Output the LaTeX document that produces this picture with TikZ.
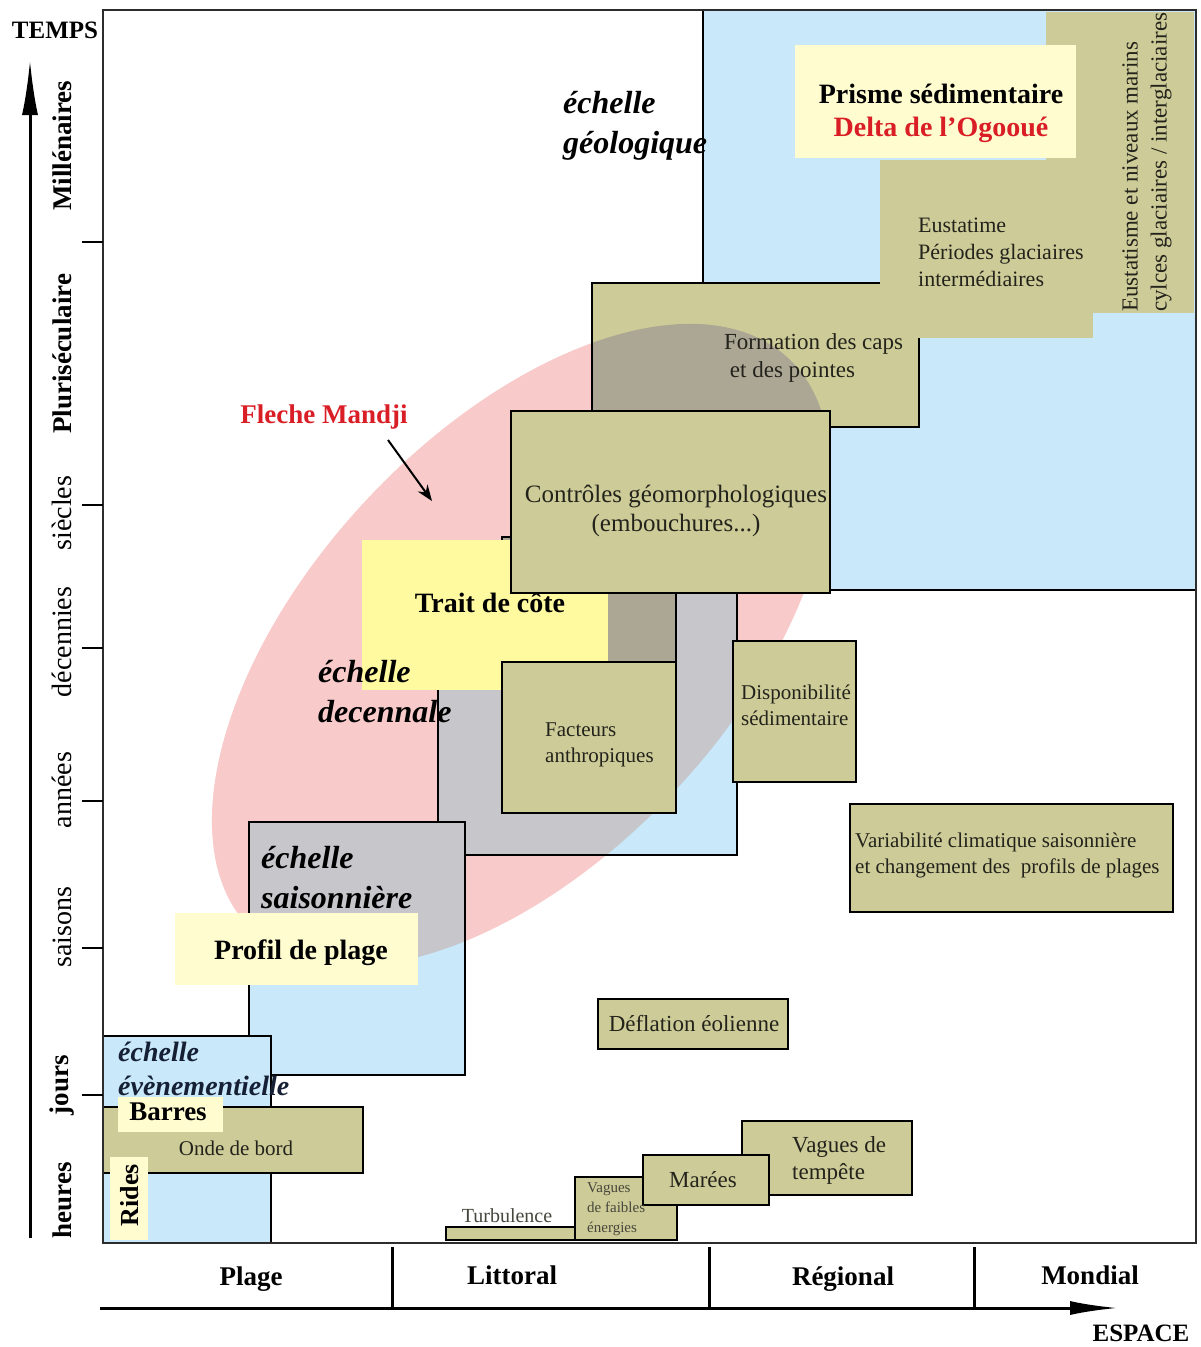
\documentclass[tikz,border=0pt]{standalone}
\usepackage{fontspec}
\setmainfont{Liberation Serif}
\usetikzlibrary{arrows.meta}

\definecolor{geoblue}{RGB}{201,232,250}
\definecolor{khaki}{RGB}{205,204,152}
\definecolor{paleyel}{RGB}{255,252,208}
\definecolor{coteyel}{RGB}{255,250,160}
\definecolor{veilpink}{RGB}{248,202,202}
\definecolor{veilgrey}{RGB}{198,198,203}
\definecolor{veiltaupe}{RGB}{172,166,148}
\definecolor{mandjired}{RGB}{218,30,38}
\definecolor{inkdark}{RGB}{35,35,28}
\definecolor{framegrey}{RGB}{45,45,45}

% ellipse of the decadal scale
\newcommand{\veilpath}{[rotate around={47:(521,645)}] (521,645) ellipse [x radius=392pt, y radius=212pt]}
% box lying under the ellipse: base colour, veiled colour, corners
\newcommand{\veiledbox}[3]{%
  \fill[#1] #3;
  \begin{scope}
    \clip\veilpath;
    \fill[#2] #3;
  \end{scope}
  \draw[edge] #3;}

\tikzset{
  edge/.style={draw=black, line width=2pt},
  zone/.style={fill=geoblue, edge},
  factor/.style={fill=khaki, edge},
  plain/.style={inner sep=0pt, text=inkdark, align=left},
  small/.style={plain, font=\fontsize{21}{26}\selectfont},
  medium/.style={plain, font=\fontsize{23}{28}\selectfont},
  title/.style={inner sep=0pt, align=center, font=\bfseries\fontsize{28}{33}\selectfont},
  scalename/.style={inner sep=0pt, align=left, font=\bfseries\itshape\fontsize{32}{40}\selectfont},
  timename/.style={inner sep=0pt, rotate=90, font=\fontsize{28}{32}\selectfont},
  spacename/.style={inner sep=0pt, font=\bfseries\fontsize{27}{32}\selectfont},
}

\begin{document}
\begin{tikzpicture}[x=1pt, y=-1pt]
\useasboundingbox (0,0) rectangle (1201,1347);
\fill[white] (0,0) rectangle (1201,1347);

% pink ellipse
\fill[veilpink] \veilpath;

% geological scale
\path[zone] (703,10) rectangle (1196,590);
\veiledbox{khaki}{veiltaupe}{(592,283) rectangle (919,427)}
\fill[khaki] (880,160) rectangle (1093,338);
\fill[khaki] (1046,12) rectangle (1194,313);
\fill[paleyel] (795,45) rectangle (1076,158);

% decadal and seasonal scales
\veiledbox{geoblue}{veilgrey}{(438,565) rectangle (737,855)}
\veiledbox{khaki}{veiltaupe}{(502,537) rectangle (676,662)}
\veiledbox{geoblue}{veilgrey}{(249,822) rectangle (465,1075)}

\fill[coteyel] (362,540) rectangle (608,690);
\path[factor] (511,411) rectangle (830,593);
\path[factor] (502,662) rectangle (676,813);
\fill[paleyel] (175,913) rectangle (418,985);
\path[factor] (733,641) rectangle (856,782);
\path[factor] (850,804) rectangle (1173,912);
\path[factor] (598,999) rectangle (788,1049);

% event scale
\path[zone] (103,1036) rectangle (271,1243);
\path[factor] (103,1107) rectangle (363,1173);
\fill[paleyel] (118,1097) rectangle (223,1132);
\fill[paleyel] (110,1157) rectangle (148,1240);
\path[factor, line width=1.5pt] (446,1227) rectangle (575,1240);
\path[factor] (575,1177) rectangle (677,1240);
\path[factor] (742,1121) rectangle (912,1195);
\path[factor] (643,1155) rectangle (769,1205);

% frame and axes
\draw[framegrey, line width=2.5pt] (103,10) rectangle (1196,1243);
\coordinate (t0) at (30,1238);
\coordinate (t1) at (30,60);
\coordinate (e0) at (100,1308);
\coordinate (e1) at (1118,1308);
\draw[line width=3pt, -{Latex[length=55pt,width=16pt]}] (t0) -- (t1);
\draw[line width=3pt, -{Latex[length=48pt,width=14pt]}] (e0) -- (e1);
\draw[line width=2pt] (82,242) -- (103,242) (82,505) -- (103,505)
  (82,648) -- (103,648) (82,801) -- (103,801)
  (82,948) -- (103,948) (82,1095) -- (103,1095);
\draw[line width=3pt] (392,1247) -- (392,1308) (709,1247) -- (709,1308)
  (974,1247) -- (974,1308);

\node[spacename, font=\bfseries\fontsize{25}{30}\selectfont] (temps) at (55,30) {TEMPS};
\node[spacename, font=\bfseries\fontsize{25}{30}\selectfont] (espace) at (1141,1333) {ESPACE};
\node[timename, font=\bfseries\fontsize{27}{32}\selectfont] (millen) at (62,146) {Millénaires};
\node[timename, font=\bfseries\fontsize{27}{32}\selectfont] (pluri) at (62,354) {Pluriséculaire};
\node[timename] (siecles) at (62,513) {siècles};
\node[timename] (decen) at (62,642) {décennies};
\node[timename] (annees) at (62,790) {années};
\node[timename] (saisons) at (62,927) {saisons};
\node[timename, font=\bfseries\fontsize{27}{32}\selectfont] (jours) at (62,1085) {jours};
\node[timename, font=\bfseries\fontsize{27}{32}\selectfont] (heures) at (62,1200) {heures};

\node[spacename] (plage) at (251,1279) {Plage};
\node[spacename] (littoral) at (512,1275) {Littoral};
\node[spacename] (regional) at (843,1279) {Régional};
\node[spacename] (mondial) at (1090,1275) {Mondial};

% labels
\node[scalename, anchor=west] (geol) at (563,126) {échelle\\géologique};
\node[title] (prisme) at (941,113) {Prisme sédimentaire\\\textcolor{mandjired}{Delta de l'Ogooué}};
\node[plain, rotate=90, anchor=west, font=\fontsize{23}{29}\selectfont] (eusniv) at (1147,312)
  {Eustatisme et niveaux marins\\cylces glaciaires / interglaciaires};
\node[small, anchor=west, font=\fontsize{22}{27}\selectfont] (eustat) at (918,252)
  {Eustatime\\Périodes glaciaires\\intermédiaires};
\node[medium, anchor=west] (caps) at (724,358) {Formation des caps\\\ et des pointes};
\node[plain, align=center, font=\fontsize{25}{29}\selectfont] (controles) at (676,511)
  {Contrôles géomorphologiques\\(embouchures...)};
\node[title, text=mandjired, font=\bfseries\fontsize{27}{32}\selectfont] (fleche) at (324,417) {Fleche Mandji};
\coordinate (flecheTail) at (388,440);
\coordinate (flecheTip) at (432,501);
\draw[line width=2pt, -{Stealth[length=16pt,width=12pt]}] (flecheTail) -- (flecheTip);
\node[title] (trait) at (490,603) {Trait de côte};
\node[scalename, anchor=west] (decenn) at (318,692) {échelle\\decennale};
\node[small, anchor=west] (anthro) at (545,745) {Facteurs\\anthropiques};
\node[small, anchor=west] (dispo) at (741,705) {Disponibilité\\sédimentaire};
\node[small, anchor=west] (clim) at (855,855)
  {Variabilité climatique saisonnière\\et changement des\ \ profils de plages};
\node[scalename, anchor=west] (saison) at (261,878) {échelle\\saisonnière};
\node[title] (profil) at (301,953) {Profil de plage};
\node[medium] (deflation) at (694,1024) {Déflation éolienne};
\node[scalename, anchor=west, text={rgb,255:red,22;green,32;blue,52},
  font=\bfseries\itshape\fontsize{28}{34}\selectfont] (evenem) at (118,1069) {échelle\\évènementielle};
\node[title, font=\bfseries\fontsize{27}{32}\selectfont] (barres) at (168,1112) {Barres};
\node[small] (onde) at (236,1148) {Onde de bord};
\node[title, rotate=90, font=\bfseries\fontsize{26}{32}\selectfont] (rides) at (130,1195) {Rides};
\node[small, font=\fontsize{20}{24}\selectfont, text={rgb,255:red,70;green,70;blue,60}] (turb) at (507,1216) {Turbulence};
\node[plain, anchor=west, font=\fontsize{15}{20}\selectfont, text={rgb,255:red,70;green,70;blue,60}] (faibles) at (587,1209)
  {Vagues\\de faibles\\énergies};
\node[medium] (marees) at (703,1180) {Marées};
\node[medium, anchor=west, font=\fontsize{23}{27}\selectfont] (tempete) at (792,1160) {Vagues de\\tempête};
\end{tikzpicture}
\end{document}
